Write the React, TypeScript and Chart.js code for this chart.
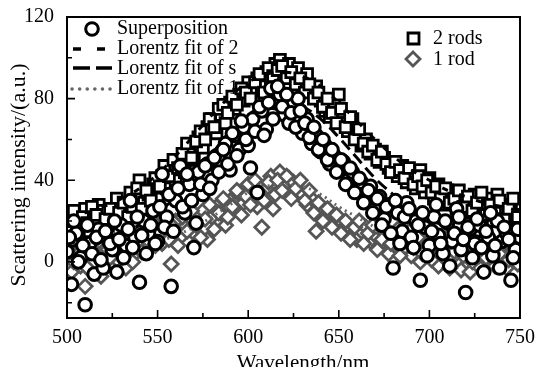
import React, { useEffect, useRef } from "react";
import { Chart, registerables } from "chart.js";

Chart.register(...registerables);

const WAVELENGTHS = [
  500, 502.5, 505, 507.5, 510, 512.5, 515, 517.5, 520, 522.5,
  525, 527.5, 530, 532.5, 535, 537.5, 540, 542.5, 545, 547.5,
  550, 552.5, 555, 557.5, 560, 562.5, 565, 567.5, 570, 572.5,
  575, 577.5, 580, 582.5, 585, 587.5, 590, 592.5, 595, 597.5,
  600, 602.5, 605, 607.5, 610, 612.5, 615, 617.5, 620, 622.5,
  625, 627.5, 630, 632.5, 635, 637.5, 640, 642.5, 645, 647.5,
  650, 652.5, 655, 657.5, 660, 662.5, 665, 667.5, 670, 672.5,
  675, 677.5, 680, 682.5, 685, 687.5, 690, 692.5, 695, 697.5,
  700, 702.5, 705, 707.5, 710, 712.5, 715, 717.5, 720, 722.5,
  725, 727.5, 730, 732.5, 735, 737.5, 740, 742.5, 745, 747.5, 750,
];

const WAVELENGTHS_B = [
  501.25, 503.75, 506.25, 508.75, 511.25, 513.75, 516.25, 518.75, 521.25, 523.75,
  526.25, 528.75, 531.25, 533.75, 536.25, 538.75, 541.25, 543.75, 546.25, 548.75,
  551.25, 553.75, 556.25, 558.75, 561.25, 563.75, 566.25, 568.75, 571.25, 573.75,
  576.25, 578.75, 581.25, 583.75, 586.25, 588.75, 591.25, 593.75, 596.25, 598.75,
  601.25, 603.75, 606.25, 608.75, 611.25, 613.75, 616.25, 618.75, 621.25, 623.75,
  626.25, 628.75, 631.25, 633.75, 636.25, 638.75, 641.25, 643.75, 646.25, 648.75,
  651.25, 653.75, 656.25, 658.75, 661.25, 663.75, 666.25, 668.75, 671.25, 673.75,
  676.25, 678.75, 681.25, 683.75, 686.25, 688.75, 691.25, 693.75, 696.25, 698.75,
  701.25, 703.75, 706.25, 708.75, 711.25, 713.75, 716.25, 718.75, 721.25, 723.75,
  726.25, 728.75, 731.25, 733.75, 736.25, 738.75, 741.25, 743.75, 746.25, 748.75,
];

const TWO_RODS = [
  22, 17, 24, 19, 26, 15, 21, 28, 25, 18,
  23, 31, 20, 27, 34, 24, 40, 29, 33, 38,
  31, 42, 36, 45, 40, 48, 44, 55, 50, 61,
  56, 66, 70, 63, 72, 68, 78, 75, 82, 79,
  88, 84, 90, 86, 93, 89, 97, 99, 94, 97,
  91, 95, 88, 92, 85, 86, 79, 74, 71, 77,
  82, 68, 64, 70, 62, 57, 60, 53, 55, 49,
  51, 46, 47, 42, 47, 39, 44, 36, 45, 34,
  41, 31, 38, 28, 35, 34, 26, 30, 24, 29,
  33, 22, 27, 31, 20, 33, 25, 18, 28, 23, 20,
];

const TWO_RODS_B = [
  20, 25, 14, 22, 19, 27, 23, 16, 21, 26,
  19, 24, 29, 22, 27, 36, 26, 35, 30, 41,
  37, 47, 42, 50, 46, 53, 58, 51, 59, 64,
  60, 70, 66, 75, 77, 73, 81, 77, 85, 83,
  80, 88, 92, 83, 95, 91, 94, 96, 90, 93,
  87, 90, 83, 87, 80, 83, 76, 80, 73, 68,
  75, 66, 71, 60, 65, 58, 54, 57, 50, 54,
  48, 44, 49, 45, 41, 46, 38, 42, 37, 40,
  34, 37, 31, 36, 29, 31, 35, 27, 32, 25,
  29, 34, 23, 28, 24, 30, 21, 26, 31, 22,
];

const SUPERPOSITION = [
  5, -11, 14, 2, -21, 9, -6, 16, -3, 11,
  6, -5, 18, 8, 30, 12, -10, 20, 14, 25,
  10, 43, 22, -12, 30, 47, 24, 38, 7, 44,
  33, 48, 40, 52, 49, 58, 45, 62, 55, 66,
  57, 70, 34, 74, 65, 85, 78, 82, 72, 68,
  78, 80, 63, 70, 58, 62, 54, 57, 48, 52,
  45, 49, 40, 44, 35, 39, 30, 37, 26, 32,
  21, 28, -3, 24, 15, 29, 12, 20, -9, 17,
  8, 22, 13, 4, 19, 10, 26, 6, -15, 16,
  9, 18, -5, 12, 3, 20, 10, 14, -9, 6, 12,
];

const SUPERPOSITION_B = [
  12, 20, 0, 8, 18, 4, 12, 1, 15, 9,
  20, 11, 2, 16, 7, 22, 13, 4, 18, 9,
  27, 17, 33, 15, 36, 27, 43, 30, 19, 38,
  47, 36, 51, 44, 55, 48, 63, 52, 69, 60,
  46, 64, 76, 62, 78, 70, 86, 76, 82, 73,
  66, 74, 68, 61, 66, 55, 60, 50, 55, 44,
  50, 38, 46, 34, 41, 29, 35, 24, 31, 18,
  27, 14, 30, 9, 22, 26, 7, 18, 24, 3,
  15, 28, 9, 20, -2, 14, 22, 11, 17, 2,
  21, 7, 15, 24, 8, -3, 17, 11, 2, 16,
];

const ONE_ROD = [
  2, -5, 8, -2, -12, 5, 0, 10, -4, 6,
  12, 1, 8, -3, 14, 4, 10, 16, 6, 12,
  18, 9, 14, -1, 20, 12, 17, 22, 14, 19,
  25, 11, 22, 27, 24, 18, 30, 26, 34, 29,
  38, 32, 27, 17, 36, 42, 33, 44, 38, 41,
  39, 35, 33, 28, 31, 15, 27, 22, 25, 19,
  21, 16, 18, 13, 11, 15, 17, 10, 13, 8,
  14, 4, 11, 16, 6, 12, 3, 9, 0, 14,
  5, 10, -2, 7, 12, 2, 8, -4, 6, -5,
  9, 3, 11, 0, 5, 2, 8, -3, 7, 10, 4,
];

const ONE_ROD_B = [
  8, 0, 4, 11, -3, 9, 3, -7, 13, 2,
  7, 15, 3, 10, 0, 13, 5, 11, 19, 8,
  14, 21, 11, 17, 8, 22, 15, 25, 18, 12,
  21, 28, 16, 24, 31, 22, 27, 35, 23, 32,
  28, 40, 34, 30, 39, 26, 40, 35, 42, 31,
  36, 40, 30, 35, 24, 29, 20, 26, 17, 23,
  14, 20, 11, 17, 20, 9, 14, 18, 6, 11,
  16, 9, 13, 3, 10, 15, 7, 12, 4, 9,
  1, 13, 6, 10, -3, 5, 11, 3, 8, 0,
  5, 10, 2, 7, -2, 4, 9, 1, 6, -1,
];

const FIT_WAVELENGTHS = [
  500, 510, 520, 530, 540, 550, 560, 570, 580, 590, 600, 610, 620,
  630, 640, 650, 660, 670, 680, 690, 700, 710, 720, 730, 740, 750,
];
const FIT_TWO = [22, 24, 27, 31, 36, 43, 52, 62, 72, 81, 88, 92, 93, 91, 86, 78, 69, 60, 52, 45, 40, 35, 32, 29, 27, 25];
const FIT_SUPER = [7, 9, 11, 14, 18, 24, 32, 42, 53, 64, 72, 77, 78, 76, 70, 61, 51, 41, 33, 26, 21, 17, 14, 12, 10, 9];
const FIT_ONE = [3, 4, 5, 6, 8, 10, 13, 17, 22, 28, 34, 37, 38, 37, 33, 27, 22, 17, 13, 10, 8, 7, 6, 5, 4, 4];

const X_TICKS = [500, 550, 600, 650, 700, 750];
const X_MINOR = [525, 575, 625, 675, 725];
const Y_TICKS = [0, 40, 80, 120];
const Y_MINOR = [-20, 20, 60, 100];

const X_TITLE = "Wavelength/nm";
const Y_TITLE = "Scattering intensity/(a.u.)";
const LABEL_SUPER = "Superposition";
const LABEL_FIT2 = "Lorentz fit of 2";
const LABEL_FITS = "Lorentz fit of s";
const LABEL_FIT1 = "Lorentz fit of 1";
const LABEL_TWO = "2 rods";
const LABEL_ONE = "1 rod";

const SERIF = '"Liberation Serif", "Times New Roman", serif';
const GRAY = "#555555";

const pairs = (xs: number[], ys: number[]) => xs.map((x, i) => ({ x, y: ys[i] }));

const decorPlugin = {
  id: "decor",
  afterDatasetsDraw(chart: any) {
    const { ctx, chartArea, scales } = chart;
    const { left, right, top, bottom } = chartArea;
    const xs = scales.x;
    const ys = scales.y;
    ctx.save();
    ctx.strokeStyle = "#000";
    ctx.lineWidth = 2;
    ctx.setLineDash([]);
    ctx.strokeRect(left, top, right - left, bottom - top);
    ctx.lineWidth = 1.6;
    ctx.beginPath();
    Y_TICKS.forEach((v) => {
      const p = ys.getPixelForValue(v);
      ctx.moveTo(left, p);
      ctx.lineTo(left + 8, p);
    });
    Y_MINOR.forEach((v) => {
      const p = ys.getPixelForValue(v);
      ctx.moveTo(left, p);
      ctx.lineTo(left + 5, p);
    });
    X_TICKS.forEach((v) => {
      const p = xs.getPixelForValue(v);
      ctx.moveTo(p, bottom);
      ctx.lineTo(p, bottom - 8);
    });
    X_MINOR.forEach((v) => {
      const p = xs.getPixelForValue(v);
      ctx.moveTo(p, bottom);
      ctx.lineTo(p, bottom - 5);
    });
    ctx.stroke();

    ctx.fillStyle = "#000";
    ctx.textAlign = "center";
    ctx.textBaseline = "alphabetic";
    ctx.font = `21px ${SERIF}`;
    ctx.fillText(X_TITLE, 303, 369);
    ctx.save();
    ctx.translate(25, 175);
    ctx.rotate(-Math.PI / 2);
    ctx.font = `22px ${SERIF}`;
    ctx.fillText(Y_TITLE, 0, 0);
    ctx.restore();

    ctx.font = `20px ${SERIF}`;
    ctx.textAlign = "left";
    ctx.fillText(LABEL_SUPER, 117, 34);
    ctx.fillText(LABEL_FIT2, 117, 54);
    ctx.fillText(LABEL_FITS, 117, 74);
    ctx.fillText(LABEL_FIT1, 117, 94);

    ctx.beginPath();
    ctx.arc(92, 29, 6.3, 0, Math.PI * 2);
    ctx.fillStyle = "#fff";
    ctx.fill();
    ctx.lineWidth = 3;
    ctx.strokeStyle = "#000";
    ctx.stroke();

    ctx.lineWidth = 3.5;
    ctx.beginPath();
    ctx.setLineDash([8, 16]);
    ctx.moveTo(73, 49);
    ctx.lineTo(112, 49);
    ctx.stroke();
    ctx.beginPath();
    ctx.setLineDash([17, 6]);
    ctx.moveTo(73, 68);
    ctx.lineTo(112, 68);
    ctx.stroke();
    ctx.beginPath();
    ctx.strokeStyle = "#666";
    ctx.lineCap = "round";
    ctx.setLineDash([0.1, 7.5]);
    ctx.moveTo(72, 89);
    ctx.lineTo(116, 89);
    ctx.stroke();
    ctx.lineCap = "butt";
    ctx.setLineDash([]);

    ctx.fillStyle = "#000";
    ctx.fillText(LABEL_TWO, 433, 44);
    ctx.fillText(LABEL_ONE, 433, 65);
    ctx.strokeStyle = "#000";
    ctx.lineWidth = 2.8;
    ctx.fillStyle = "#fff";
    ctx.beginPath();
    ctx.rect(408, 33, 11, 11);
    ctx.fill();
    ctx.stroke();
    ctx.strokeStyle = GRAY;
    ctx.beginPath();
    ctx.moveTo(413, 52);
    ctx.lineTo(420, 59);
    ctx.lineTo(413, 66);
    ctx.lineTo(406, 59);
    ctx.closePath();
    ctx.fill();
    ctx.stroke();
    ctx.restore();
  },
};

export default function App() {
  const canvasRef = useRef<HTMLCanvasElement | null>(null);

  useEffect(() => {
    document.body.style.margin = "0";
    const canvas = canvasRef.current;
    if (!canvas) return;
    const chart = new Chart(canvas, {
      type: "scatter",
      data: {
        datasets: [
          {
            label: LABEL_SUPER,
            data: [...pairs(WAVELENGTHS, SUPERPOSITION), ...pairs(WAVELENGTHS_B, SUPERPOSITION_B)],
            pointStyle: "circle",
            pointRadius: 6.3,
            borderWidth: 3,
            borderColor: "#000",
            backgroundColor: "#fff",
            clip: 0,
            order: 0,
          } as any,
          {
            label: LABEL_FITS,
            data: pairs(FIT_WAVELENGTHS, FIT_SUPER),
            showLine: true,
            pointRadius: 0,
            borderColor: "#000",
            borderWidth: 3,
            borderDash: [12, 6],
            tension: 0.4,
            clip: 0,
            order: 1,
          } as any,
          {
            label: LABEL_FIT2,
            data: pairs(FIT_WAVELENGTHS, FIT_TWO),
            showLine: true,
            pointRadius: 0,
            borderColor: "#000",
            borderWidth: 3,
            borderDash: [6, 12],
            tension: 0.4,
            clip: 0,
            order: 2,
          } as any,
          {
            label: LABEL_FIT1,
            data: pairs(FIT_WAVELENGTHS, FIT_ONE),
            showLine: true,
            pointRadius: 0,
            borderColor: "#666",
            borderWidth: 3,
            borderDash: [2, 4],
            tension: 0.4,
            clip: 0,
            order: 3,
          } as any,
          {
            label: LABEL_TWO,
            data: [...pairs(WAVELENGTHS, TWO_RODS), ...pairs(WAVELENGTHS_B, TWO_RODS_B)],
            pointStyle: "rect",
            pointRadius: 7.7,
            borderWidth: 2.8,
            borderColor: "#000",
            backgroundColor: "#fff",
            clip: 0,
            order: 4,
          } as any,
          {
            label: LABEL_ONE,
            data: [...pairs(WAVELENGTHS, ONE_ROD), ...pairs(WAVELENGTHS_B, ONE_ROD_B)],
            pointStyle: "rectRot",
            pointRadius: 7,
            borderWidth: 2.8,
            borderColor: GRAY,
            backgroundColor: "#fff",
            clip: 0,
            order: 5,
          } as any,
        ],
      },
      options: {
        animation: false,
        responsive: false,
        devicePixelRatio: 1,
        layout: { padding: { left: 0, top: 17, right: 15, bottom: 0 } },
        plugins: {
          legend: { display: false },
          tooltip: { enabled: false },
        },
        scales: {
          x: {
            type: "linear",
            min: 500,
            max: 750,
            grid: { display: false },
            border: { display: false },
            afterBuildTicks: (scale: any) => {
              scale.ticks = X_TICKS.map((v) => ({ value: v }));
            },
            afterFit: (scale: any) => {
              scale.height = 49;
            },
            ticks: {
              color: "#000",
              padding: 0,
              maxRotation: 0,
              autoSkip: false,
              font: { family: SERIF, size: 20 },
            },
          },
          y: {
            type: "linear",
            min: -27.5,
            max: 120,
            grid: { display: false },
            border: { display: false },
            afterBuildTicks: (scale: any) => {
              scale.ticks = Y_TICKS.map((v) => ({ value: v }));
            },
            afterFit: (scale: any) => {
              scale.width = 67;
            },
            ticks: {
              color: "#000",
              padding: 5,
              autoSkip: false,
              font: { family: SERIF, size: 20 },
            },
          },
        },
      },
      plugins: [decorPlugin],
    } as any);
    return () => chart.destroy();
  }, []);

  return (
    <div style={{ position: "absolute", left: 0, top: 0, width: 535, height: 367, background: "#fff" }}>
      <canvas ref={canvasRef} width={535} height={367} />
    </div>
  );
}
